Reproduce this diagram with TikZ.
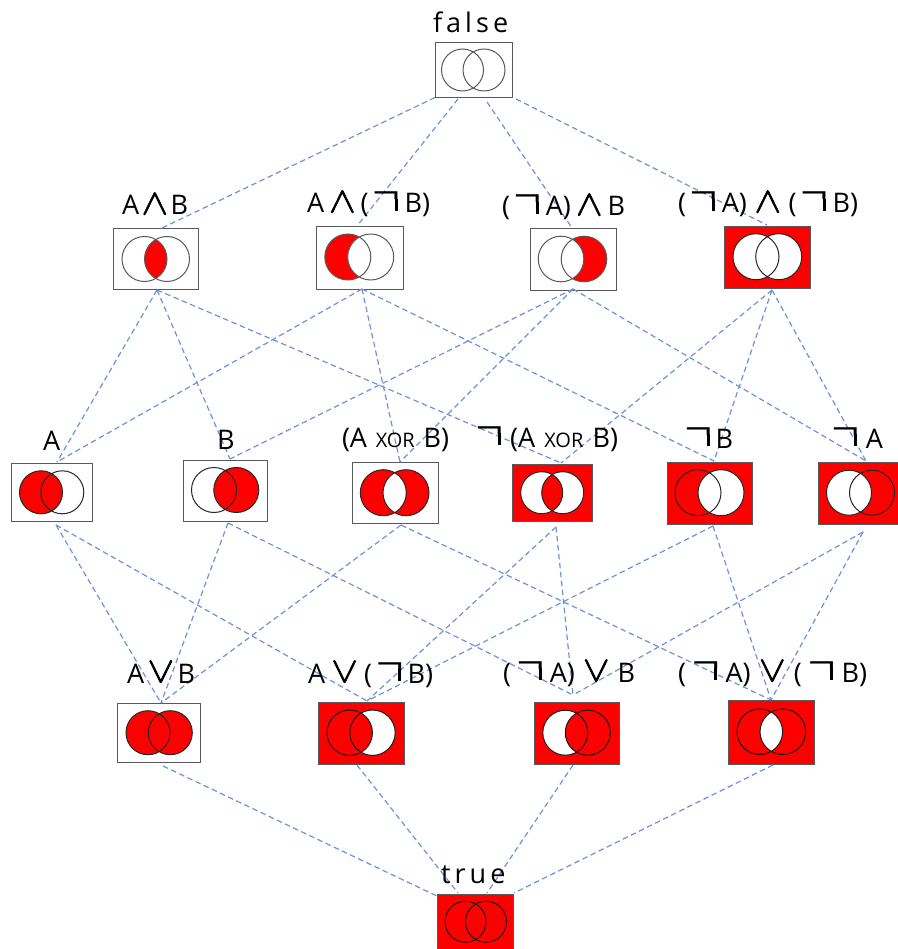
\documentclass[tikz,border=0pt]{standalone}
\usepackage{graphicx}
\usepackage{fontspec}
\setmainfont{Open Sans}
\newfontfamily\sym{DejaVu Sans}
\newfontfamily\spaced[LetterSpace=15]{Open Sans}
\definecolor{vred}{HTML}{FF0000}
\definecolor{linkblue}{HTML}{6E93D6}
\newcommand\heavy[1]{\special{pdf:code q 2 Tr 0.45 w}#1\special{pdf:code Q}}
\newcommand\nt{\mbox{\kern-3.8pt\raisebox{9pt}{\scalebox{1.3}[1]{\fontsize{28}{28}\selectfont\sym ¬}}\kern-6.8pt\rule[2pt]{3pt}{12pt}}}
\newcommand\vand{\raisebox{1pt}{\scalebox{1.6}[1.45]{\fontsize{24.88}{25}\selectfont\heavy{$\wedge$}}}}
\newcommand\vor{\raisebox{1pt}{\scalebox{1.6}[1.45]{\fontsize{24.88}{25}\selectfont\heavy{$\vee$}}}}
\newcommand\xorw{{\fontsize{20}{20}\selectfont XOR}}
\newcommand\boxnode[6]{%
  \pgfmathsetmacro\bw{#4-#2}\pgfmathsetmacro\bh{#5-#3}%
  \pgfmathsetmacro\bx{(#2+#4)/2}\pgfmathsetmacro\by{(#3+#5)/2}%
  \node[vbox,fill=#6,minimum width=\bw pt,minimum height=\bh pt] (#1) at (\bx,\by) {};}
\newcommand\vennc[8][black!65]{%
  \fill[#6] (#2,#4) circle [radius=#5];
  \fill[#8] (#3,#4) circle [radius=#5];
  \begin{scope}
    \clip (#2,#4) circle [radius=#5];
    \fill[#7] (#3,#4) circle [radius=#5];
  \end{scope}
  \draw[#1,line width=1pt] (#2,#4) circle [radius=#5];
  \draw[#1,line width=1pt] (#3,#4) circle [radius=#5];}
\newcommand\lab[5]{%
  \pgfmathsetmacro\lw{#3-#2}%
  \node[txt] (#1) at (#2,#4) {\hbox to \lw pt{#5}};}
\tikzset{
  x=1pt,y=-1pt,
  vbox/.style={draw=black!65,line width=.9pt,inner sep=0pt,outer sep=0pt,rectangle},
  link/.style={draw=linkblue,line width=1.2pt,dash pattern=on 5.5pt off 3.5pt},
  txt/.style={anchor=base west,inner sep=0pt,outer sep=0pt,font=\fontsize{27}{27}\selectfont,text=black}
}
\begin{document}
\begin{tikzpicture}
\useasboundingbox (0,0) rectangle (897,949);
\fill[white] (0,0) rectangle (897,949);
% boxes
\boxnode{vfalse}{435}{42}{512}{97}{white}
\boxnode{vand}{113}{228}{198}{289}{white}
\boxnode{vandnb}{316}{226}{403}{289}{white}
\boxnode{vnaand}{530}{228}{616}{290}{white}
\boxnode{vnanb}{724}{226}{810}{288}{vred}
\boxnode{va}{11.5}{463}{92}{521}{white}
\boxnode{vb}{183}{460}{267.5}{521}{white}
\boxnode{vx}{352}{462}{438}{523}{white}
\boxnode{vnx}{512.5}{464.5}{592}{521}{vred}
\boxnode{vnb}{667}{462}{752.5}{524}{vred}
\boxnode{vna}{818}{462}{898}{524}{vred}
\boxnode{vor}{117.5}{703}{200.5}{762.5}{white}
\boxnode{vornb}{318.5}{702}{404}{764}{vred}
\boxnode{vnaor}{534}{702}{619}{764}{vred}
\boxnode{vnaonb}{728}{700.5}{814}{764}{vred}
\boxnode{vtrue}{437.5}{894}{513.5}{950}{vred}
% venns
\vennc{462.5}{484}{70}{21}{white}{white}{white}
\vennc{144.5}{167}{259}{22.5}{white}{vred}{white}
\vennc{347.8}{370.7}{257}{23}{vred}{white}{white}
\vennc{561}{584}{259}{22.8}{white}{white}{vred}
\vennc[black!85]{756}{778.7}{256.7}{23}{white}{white}{white}
\vennc[black!85]{41}{62.3}{492.3}{21.5}{vred}{vred}{white}
\vennc[black!85]{214}{236.3}{490}{22.5}{white}{vred}{vred}
\vennc[black!85]{383.3}{406}{492.7}{23}{vred}{white}{vred}
\vennc[black!85]{541.7}{562.7}{492.7}{21}{white}{vred}{white}
\vennc[black!85]{698}{721}{492.7}{23}{vred}{white}{white}
\vennc[black!85]{849}{872}{492.7}{22.5}{white}{white}{vred}
\vennc[black!85]{148}{170.3}{732.7}{22}{vred}{vred}{vred}
\vennc[black!90]{349.7}{372.5}{732.7}{22.7}{vred}{vred}{white}
\vennc[black!90]{565.3}{587.8}{732.7}{22.5}{white}{vred}{vred}
\vennc[black!90]{759.8}{782.8}{731.7}{22.8}{vred}{white}{vred}
\vennc[black!90]{465.5}{486}{921.7}{20.5}{vred}{vred}{vred}
% ports
\coordinate (p1) at (435,97.5);
\coordinate (p2) at (458,99);
\coordinate (p3) at (487,102);
\coordinate (p4) at (516,99);
\coordinate (q1) at (437,896);
\coordinate (q2) at (458,893);
\coordinate (q3) at (487,893);
\coordinate (q4) at (514,893);
\coordinate (vand-in) at (162,228);   \coordinate (vand-out) at (157,290);
\coordinate (vandnb-in) at (357,226); \coordinate (vandnb-out) at (362,289);
\coordinate (vnaand-in) at (572,228); \coordinate (vnaand-out) at (573,289);
\coordinate (vnanb-in) at (767,225);  \coordinate (vnanb-out) at (772,290);
\coordinate (va-in) at (57,462);      \coordinate (va-out) at (56,525);
\coordinate (vb-in) at (230,459);     \coordinate (vb-out) at (228,523);
\coordinate (vx-in) at (400,462);     \coordinate (vx-out) at (401,525);
\coordinate (vnx-in) at (561,463);    \coordinate (vnx-out) at (556,527);
\coordinate (vnb-in) at (714,461);    \coordinate (vnb-out) at (713,526);
\coordinate (vna-in) at (866,461);    \coordinate (vna-out) at (863,532);
\coordinate (vor-in) at (161,703);    \coordinate (vor-out) at (163,766);
\coordinate (vornb-in) at (367,701);  \coordinate (vornb-out) at (357,765);
\coordinate (vnaor-in) at (573,695);  \coordinate (vnaor-out) at (573,765);
\coordinate (vnaonb-in) at (771,700); \coordinate (vnaonb-out) at (773,765);
% connectors
\draw[link] (p1) -- (vand-in);
\draw[link] (p2) -- (vandnb-in);
\draw[link] (p3) -- (vnaand-in);
\draw[link] (p4) -- (vnanb-in);
\foreach \s/\t in {vand/va,vand/vb,vand/vnx,vandnb/va,vandnb/vx,vandnb/vnb,vnaand/vb,vnaand/vx,vnaand/vna,vnanb/vnx,vnanb/vnb,vnanb/vna,
  va/vor,va/vornb,vb/vor,vb/vnaor,vx/vor,vx/vnaonb,vnx/vornb,vnx/vnaor,vnb/vornb,vnb/vnaonb,vna/vnaor,vna/vnaonb}
  {\draw[link] (\s-out) -- (\t-in);}
\draw[link] (vor-out) -- (q1);
\draw[link] (vornb-out) -- (q2);
\draw[link] (vnaor-out) -- (q3);
\draw[link] (vnaonb-out) -- (q4);
% labels
\node[txt] (lfalse) at (433,33) {\spaced false};
\lab{land}{122}{188}{215}{A\hfill\vand\hfill B}
\lab{landnb}{307}{430}{213}{A\hfill\vand\hfill(\kern6pt\nt\kern7pt B)}
\lab{lnaand}{502}{625}{216}{(\kern6pt\nt\kern7pt A)\hfill\vand\hfill B}
\lab{lnanb}{678}{858}{213}{(\kern6pt\nt\kern7pt A)\hfill\vand\hfill(\kern6pt\nt\kern7pt B)}
\lab{la}{43}{60}{450}{A\hss}
\lab{lb}{217}{232}{449}{B\hss}
\lab{lx}{342}{449}{447}{(A\hfill\xorw\hfill B)}
\lab{lnx}{478}{618}{447}{\nt\hfill(A\hfill\xorw\hfill B)}
\lab{lnb}{687}{733}{448}{\nt\hfill B}
\lab{lna}{834}{883}{448}{\nt\hfill A}
\lab{lor}{127}{195}{683}{A\hfill\vor\hfill B}
\lab{lornb}{308}{433}{683}{A\hfill\vor\hfill(\hfill\nt\hfill B)}
\lab{lnaor}{503}{635}{682}{(\hfill\nt\hfill A)\hfill\vor\hfill B}
\lab{lnaonb}{678}{867}{682}{(\hfill\nt\hfill A)\hfill\vor\hfill(\hfill\nt\hfill B)}
\node[txt] (ltrue) at (441,883) {\spaced true};
\end{tikzpicture}
\end{document}
